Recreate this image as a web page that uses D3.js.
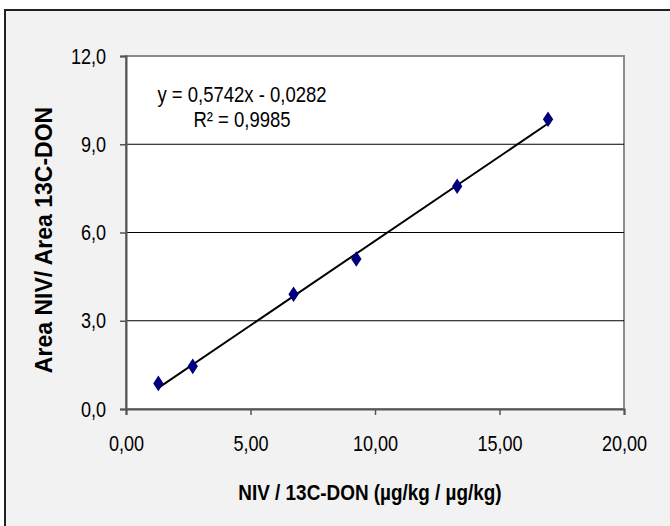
<!DOCTYPE html>
<html>
<head>
<meta charset="utf-8">
<script src="https://cdn.jsdelivr.net/npm/d3@7"></script>
<style>
  body { margin: 0; background: #fff; }
  svg { display: block; }
</style>
</head>
<body>
<svg id="plot" width="670" height="526"></svg>
<script>
// calibration points
var xValues = [1.3, 2.68, 6.73, 9.25, 13.3, 16.95];
var yValues = [0.87, 1.45, 3.9, 5.1, 7.57, 9.85];
var xTicks = [0, 5, 10, 15, 20];
var yTicks = [0, 3, 6, 9, 12];
var slope = 0.5742, intercept = -0.0282;
var eqLabel = "y = 0,5742x - 0,0282";
var r2Label = "R² = 0,9985";
var xTitle = "NIV / 13C-DON (µg/kg / µg/kg)";
var yTitle = "Area NIV/ Area 13C-DON";

var sans = "'Liberation Sans', Arial, sans-serif";

var svg = d3.select("#plot");
var m = {left: 126, top: 56, right: 624, bottom: 409};

var x = d3.scaleLinear().domain([0, 20]).range([m.left, m.right]);
var y = d3.scaleLinear().domain([0, 12]).range([m.bottom, m.top]);

function comma(d, n) { return d.toFixed(n).replace(".", ","); }

// no narrow font here, so squeeze glyphs horizontally
function squeeze(sel, f) {
  sel.each(function() {
    var w = this.getComputedTextLength();
    d3.select(this).attr("textLength", w * f).attr("lengthAdjust", "spacingAndGlyphs");
  });
}

// chart area background + frame (only top/left edges visible)
svg.append("rect").attr("x", 0).attr("y", 0).attr("width", 670).attr("height", 526).attr("fill", "#fff");
svg.append("rect").attr("x", 5).attr("y", 10).attr("width", 680).attr("height", 540)
  .attr("fill", "#f2f2f2").attr("stroke", "#222").attr("stroke-width", 2);

// plot area
svg.append("rect").attr("x", m.left).attr("y", m.top)
  .attr("width", m.right - m.left).attr("height", m.bottom - m.top)
  .attr("fill", "#fff").attr("stroke", "#8c8c8c").attr("stroke-width", 2);

// gridlines
svg.append("g").selectAll("line").data(yTicks.filter(d => d > 0 && d < 12)).enter()
  .append("line")
  .attr("x1", m.left).attr("x2", m.right)
  .attr("y1", d => y(d)).attr("y2", d => y(d))
  .attr("stroke", "#000").attr("stroke-width", 1);

// axes
var xAxis = svg.append("g").attr("transform", "translate(0," + m.bottom + ")")
  .call(d3.axisBottom(x).tickValues(xTicks).tickSize(6).tickPadding(20).tickFormat(d => comma(d, 2)));
var yAxis = svg.append("g").attr("transform", "translate(" + m.left + ",0)")
  .call(d3.axisLeft(y).tickValues(yTicks).tickSize(6).tickPadding(14).tickFormat(d => comma(d, 1)));

[xAxis, yAxis].forEach(function(a) {
  a.select(".domain").attr("stroke", "#555").attr("stroke-width", 2);
  a.selectAll(".tick line").attr("stroke", "#555").attr("stroke-width", 1.5);
  a.selectAll("text").attr("fill", "#000").style("font-family", sans).style("font-size", "22px");
  squeeze(a.selectAll("text"), 0.82);
});

// trend line over the data range
var xr = d3.extent(xValues);
svg.append("line")
  .attr("x1", x(xr[0])).attr("y1", y(slope * xr[0] + intercept))
  .attr("x2", x(xr[1])).attr("y2", y(slope * xr[1] + intercept))
  .attr("stroke", "#000").attr("stroke-width", 2);

// diamonds
var pts = xValues.map((v, i) => ({x: v, y: yValues[i]}));
svg.append("g").selectAll("path").data(pts).enter()
  .append("path")
  .attr("d", d3.symbol(d3.symbolDiamond, 70))
  .attr("transform", d => "translate(" + x(d.x) + "," + y(d.y) + ") scale(1.15,1)")
  .attr("fill", "#00007f");

// equation
var eq = svg.append("g").style("font-family", sans).style("font-size", "21.5px");
eq.append("text").attr("x", 242).attr("y", 102).attr("text-anchor", "middle").text(eqLabel);
eq.append("text").attr("x", 242).attr("y", 127).attr("text-anchor", "middle").text(r2Label);
squeeze(eq.selectAll("text"), 0.86);

// axis titles
var xt = svg.append("text").attr("x", 370).attr("y", 500).attr("text-anchor", "middle")
  .style("font-family", sans).style("font-weight", "bold").style("font-size", "22.5px").text(xTitle);
squeeze(xt, 0.84);
svg.append("text").attr("transform", "translate(52,240) rotate(-90)").attr("text-anchor", "middle")
  .style("font-family", sans).style("font-weight", "bold").style("font-size", "23px").text(yTitle);
</script>
</body>
</html>
